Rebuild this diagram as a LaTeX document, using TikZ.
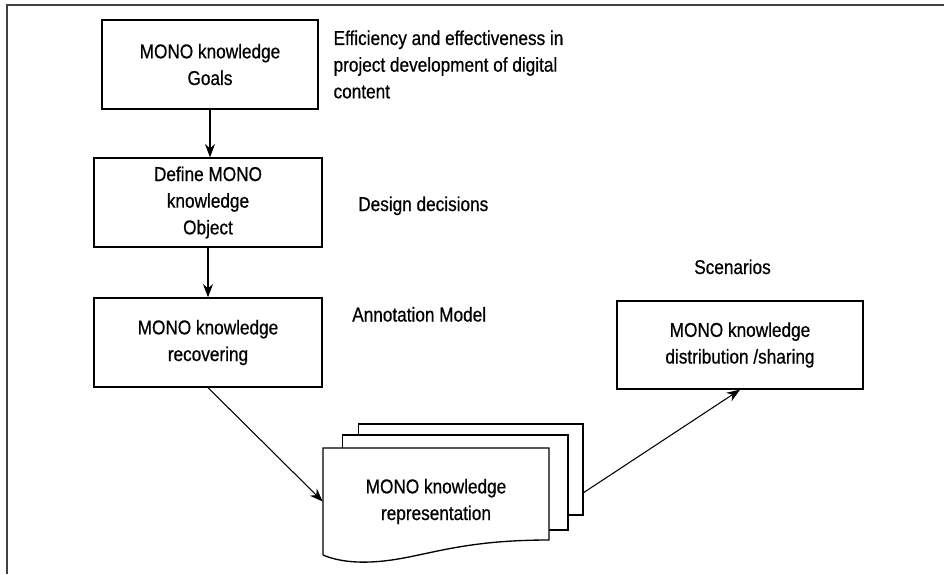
\documentclass[tikz,border=0pt]{standalone}
\usepackage{fontspec}
\setmainfont{Liberation Sans}[FakeStretch=0.86, FakeBold=0.6]
\usetikzlibrary{arrows.meta,positioning,calc}

\begin{document}
\begin{tikzpicture}[
  x=0.75pt, y=-0.75pt,
  font=\fontsize{15}{20}\selectfont,
  stage/.style={draw, line width=1pt, align=center, inner sep=0pt,
    minimum height=66.75pt},
  note/.style={align=left, inner sep=0pt},
  page/.style={draw, line width=1pt, fill=white, inner sep=0pt},
  arr/.style={-{Stealth[length=10pt, width=7.5pt]}, line width=0.8pt},
]
\useasboundingbox (0,0) rectangle (944,574);
% frame
\draw[line width=1.5pt, black!75] (6.5,574) -- (6.5,5) -- (944,5);

% Stages
\node[stage, minimum width=162pt] (goals) at (210,64.5) {MONO knowledge\\Goals};
\node[stage, minimum width=171pt] (define) at (208,202.5) {Define MONO\\knowledge\\Object};
\node[stage, minimum width=171pt] (recover) at (208,342.5) {MONO knowledge\\recovering};
\node[stage, minimum width=184.5pt, minimum height=66pt] (share) at (740,345)
  {MONO knowledge\\distribution /sharing};

% Notes
\node[note, right=11pt of goals.east, anchor=west] (goalsnote)
  {Efficiency and effectiveness in\\project development of digital\\content};
\node[note, anchor=base west] (designnote) at (358,211) {Design decisions};
\node[note, anchor=base west] (annotnote) at (352,321.5) {Annotation Model};
\node[note, anchor=base west] (scennote) at (694,274) {Scenarios};

% Document stack
\node[page, minimum width=168.2pt, minimum height=68.25pt] (pageC) at (470.85,469.5) {};
\node[page, minimum width=169.3pt, minimum height=71.25pt] (pageB) at (455.15,482.5) {};
\draw[line width=1pt, fill=white] (323,555) -- (323,448) -- (549,448) -- (549,540)
  .. controls (450,540) and (420,560) .. (370,562)
  .. controls (345,563) and (330,558) .. (323,555);
\node[inner sep=0pt, align=center, minimum width=169.5pt, minimum height=80.25pt]
  (pageA) at (436,501.5) {MONO knowledge\\representation};

% Arrows
\draw[arr] (goals.south) -- (goals.south |- define.north);
\draw[arr] (define.south) -- (recover.north);
\draw[arr] (recover.south) -- (pageA.west);
\draw[arr] ($(pageC.east)!0.5!(pageC.south east)$) -- (share.south);
\end{tikzpicture}
\end{document}
